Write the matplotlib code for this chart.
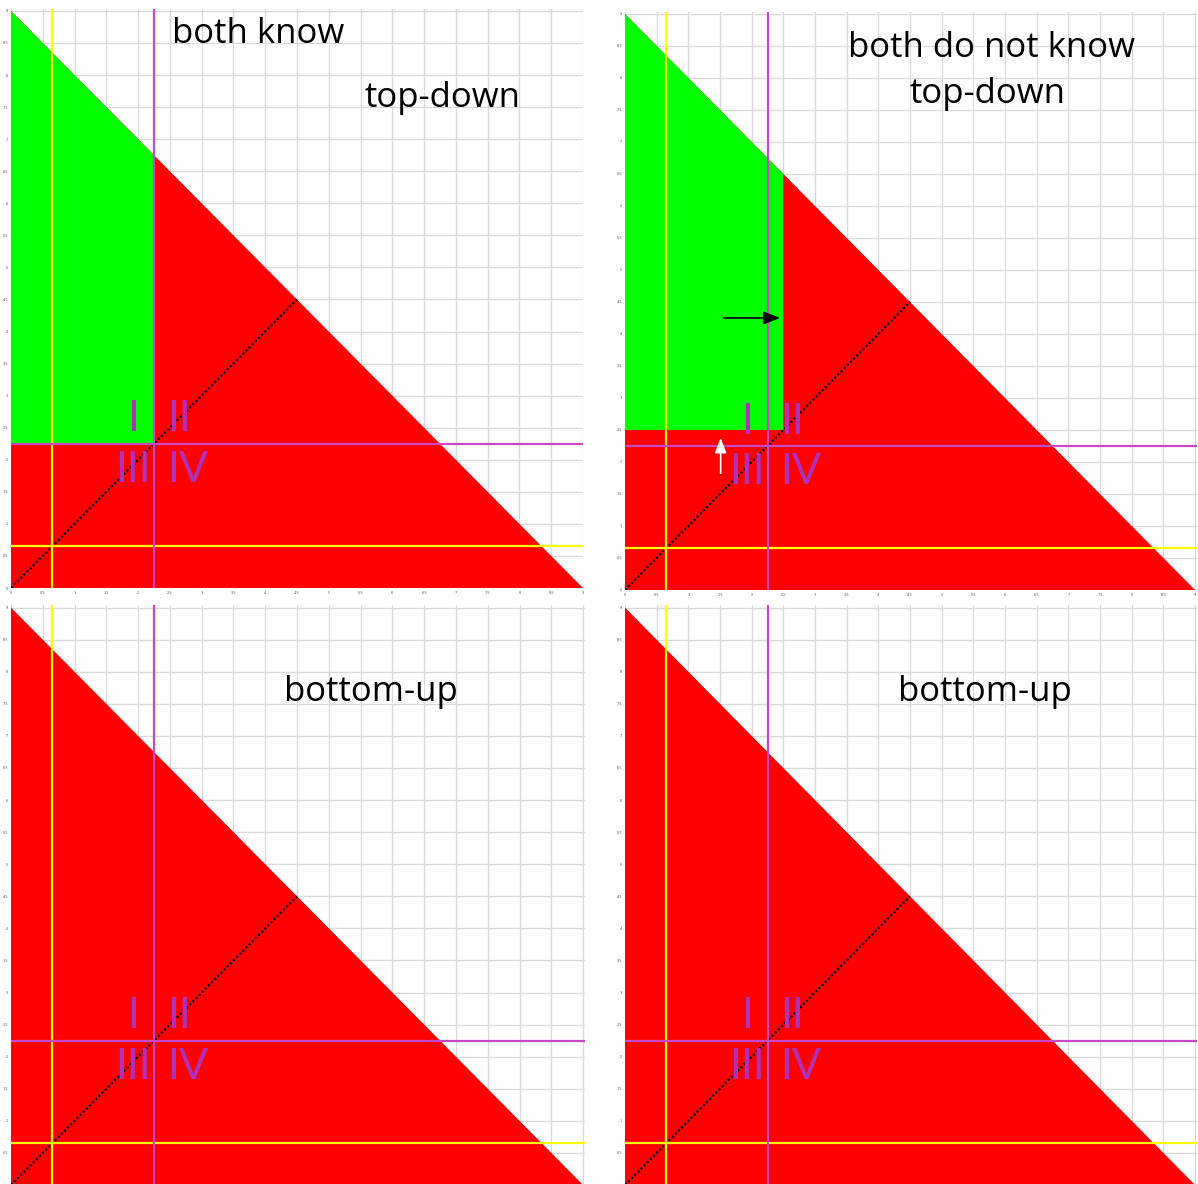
import numpy as np
import matplotlib
matplotlib.use("Agg")
import matplotlib.pyplot as plt

# budget line x + y = total, private thresholds and cutoffs
total = 9.0
yellow_val = 0.65
magenta_val = 2.25
green_cut = [2.25, 2.5, None, None]
headers = [["both know", "top-down"], ["both do not know", "top-down"],
           ["bottom-up"], ["bottom-up"]]
quadrants = ["I", "II", "III", "IV"]
ticks = np.arange(0, 9.01, 0.5)
tick_labels = ["%g" % t for t in ticks]

W, H = 1198, 1184
fig = plt.figure(figsize=(W / 100, H / 100), dpi=100)

# axes boxes in pixels: left, top, right, bottom
boxes = [(11, 9, 583, 588), (625, 12, 1197, 590),
         (11, 605, 585, 1185), (625, 605, 1197, 1185)]
xmax = [9.0, 9.03, 9.03, 9.03]
ymax = [9.03, 9.03, 9.04, 9.04]

RED = "#ff0000"
GREEN = "#00ff00"
MAG = "#c848c8"
YEL = "#ffff00"
NUM = "#b030b8"

axes = []
for i, (l, t, r, b) in enumerate(boxes):
    ax = fig.add_axes([l / W, 1 - b / H, (r - l) / W, (b - t) / H])
    ax.set_xlim(0, xmax[i])
    ax.set_ylim(0, ymax[i])
    ax.set_xticks(ticks)
    ax.set_yticks(ticks)
    if i < 2:
        ax.set_xticklabels(tick_labels, fontsize=2.5, color="#555555")
        ax.set_yticklabels(tick_labels, fontsize=2.5, color="#555555")
    else:
        # bottom row is cropped at the x axis
        ax.set_xticklabels([])
        ax.set_yticklabels([""] + tick_labels[1:], fontsize=2.5, color="#555555")
    ax.tick_params(length=0, pad=2)
    ax.grid(True, color="#d9d9d9", lw=0.9)
    ax.set_axisbelow(True)
    for s in ax.spines.values():
        s.set_visible(False)

    ax.fill([0, total, 0], [0, 0, total], color=RED, lw=0, zorder=2)
    c = green_cut[i]
    if c is not None:
        ax.fill([0, c, c, 0], [c, c, total - c, total], color=GREEN, lw=0, zorder=3)

    ax.plot([0, total / 2], [0, total / 2], color="black", ls=(0, (1, 1)), lw=1.6, zorder=5)
    ax.axvline(yellow_val, color=YEL, lw=1.6, zorder=6)
    ax.axhline(yellow_val, color=YEL, lw=1.6, zorder=6)
    ax.axvline(magenta_val, color=MAG, lw=1.6, zorder=6)
    ax.axhline(magenta_val, color=MAG, lw=1.6, zorder=6)

    # quadrant labels around the magenta crossing
    kw = dict(va="center", fontsize=31, color=NUM, family="Lato", zorder=7)
    ax.text(1.92, 2.63, quadrants[0], ha="center", **kw)
    ax.text(2.45, 2.63, quadrants[1], ha="left", **kw)
    ax.text(1.92, 1.84, quadrants[2], ha="center", **kw)
    ax.text(2.45, 1.84, quadrants[3], ha="left", **kw)
    axes.append(ax)

# arrows showing the shifted cutoff
axes[1].annotate("", xy=(2.49, 4.25), xytext=(1.51, 4.25),
                 arrowprops=dict(arrowstyle="-|>,head_length=1.0,head_width=0.4",
                                 color="black", lw=1.2), zorder=8)
axes[1].annotate("", xy=(1.51, 2.42), xytext=(1.51, 1.78),
                 arrowprops=dict(arrowstyle="-|>,head_length=0.9,head_width=0.35",
                                 color="white", lw=1.2), zorder=8)

# headers, centre x and baseline y in pixels
header_pos = [[(258, 43), (442, 107)], [(991, 57), (987, 103)],
              [(371, 701)], [(985, 701)]]
for lines, pos in zip(headers, header_pos):
    for txt, (x, y) in zip(lines, pos):
        fig.text(x / W, 1 - y / H, txt, ha="center", va="baseline",
                 fontsize=25, family="Open Sans", color="black")

fig.savefig("out.png", dpi=100)
